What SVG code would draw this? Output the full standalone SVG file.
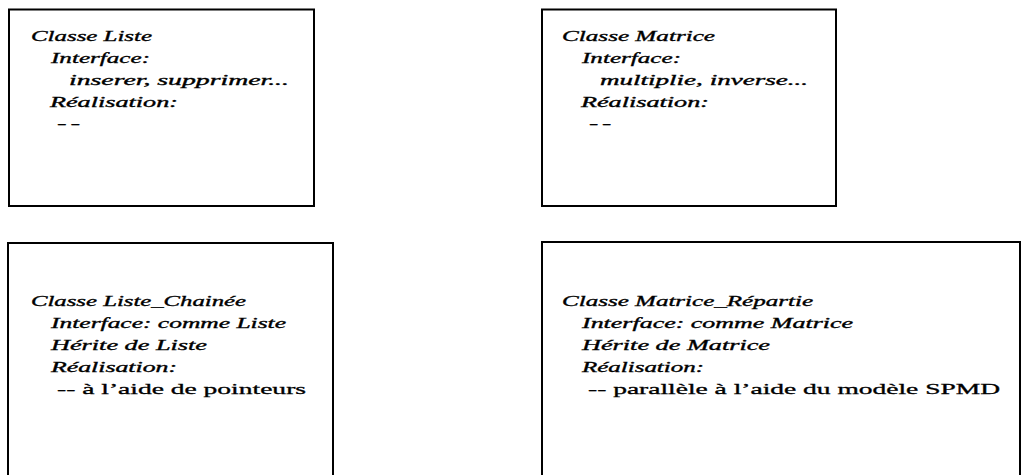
<svg xmlns="http://www.w3.org/2000/svg" width="1022" height="475" viewBox="0 0 1022 475">
<style>
  .box { fill: #ffffff; stroke: #000000; stroke-width: 2; }
  .it { font-family: "Liberation Serif", "DejaVu Serif", serif; font-style: italic; font-size: 15px; fill: #000000; stroke: #000000; stroke-width: 0.35; }
  .rm { font-family: "Liberation Serif", "DejaVu Serif", serif; font-size: 15px; fill: #000000; stroke: #000000; stroke-width: 0.3; }
  .dash { letter-spacing: 2px; }
</style>
<rect x="0" y="0" width="1022" height="475" fill="#ffffff"/>
<g id="connectors"></g>
<g id="classe-liste">
  <rect class="box" x="9" y="9.5" width="305" height="196.5"/>
  <text class="it" x="31" y="41" textLength="121" lengthAdjust="spacingAndGlyphs">Classe Liste</text>
  <text class="it" x="51" y="63" textLength="99" lengthAdjust="spacingAndGlyphs">Interface:</text>
  <text class="it" x="69" y="85" textLength="220" lengthAdjust="spacingAndGlyphs">inserer, supprimer...</text>
  <text class="it" x="50" y="107" textLength="128" lengthAdjust="spacingAndGlyphs">Réalisation:</text>
  <text class="rm dash" x="57" y="128" textLength="27" lengthAdjust="spacingAndGlyphs">--</text>
</g>
<g id="classe-matrice">
  <rect class="box" x="542" y="9.5" width="294" height="196.5"/>
  <text class="it" x="562" y="41" textLength="153" lengthAdjust="spacingAndGlyphs">Classe Matrice</text>
  <text class="it" x="582" y="63" textLength="99" lengthAdjust="spacingAndGlyphs">Interface:</text>
  <text class="it" x="600" y="85" textLength="208" lengthAdjust="spacingAndGlyphs">multiplie, inverse...</text>
  <text class="it" x="581" y="107" textLength="128" lengthAdjust="spacingAndGlyphs">Réalisation:</text>
  <text class="rm dash" x="589" y="128" textLength="26" lengthAdjust="spacingAndGlyphs">--</text>
</g>
<g id="classe-liste-chainee">
  <rect class="box" x="8" y="243" width="325" height="260"/>
  <text class="it" x="31" y="306" textLength="215" lengthAdjust="spacingAndGlyphs">Classe Liste_Chainée</text>
  <text class="it" x="51" y="328" textLength="235" lengthAdjust="spacingAndGlyphs">Interface: comme Liste</text>
  <text class="it" x="51" y="350" textLength="156" lengthAdjust="spacingAndGlyphs">Hérite de Liste</text>
  <text class="it" x="51" y="372" textLength="126" lengthAdjust="spacingAndGlyphs">Réalisation:</text>
  <text class="rm" x="57" y="394" textLength="249" lengthAdjust="spacingAndGlyphs">-- à l’aide de pointeurs</text>
</g>
<g id="classe-matrice-repartie">
  <rect class="box" x="542" y="242" width="478" height="260"/>
  <text class="it" x="562" y="306" textLength="251" lengthAdjust="spacingAndGlyphs">Classe Matrice_Répartie</text>
  <text class="it" x="582" y="328" textLength="271" lengthAdjust="spacingAndGlyphs">Interface: comme Matrice</text>
  <text class="it" x="582" y="350" textLength="188" lengthAdjust="spacingAndGlyphs">Hérite de Matrice</text>
  <text class="it" x="582" y="372" textLength="122" lengthAdjust="spacingAndGlyphs">Réalisation:</text>
  <text class="rm" x="588" y="394" textLength="412" lengthAdjust="spacingAndGlyphs">-- parallèle à l’aide du modèle SPMD</text>
</g>
</svg>
